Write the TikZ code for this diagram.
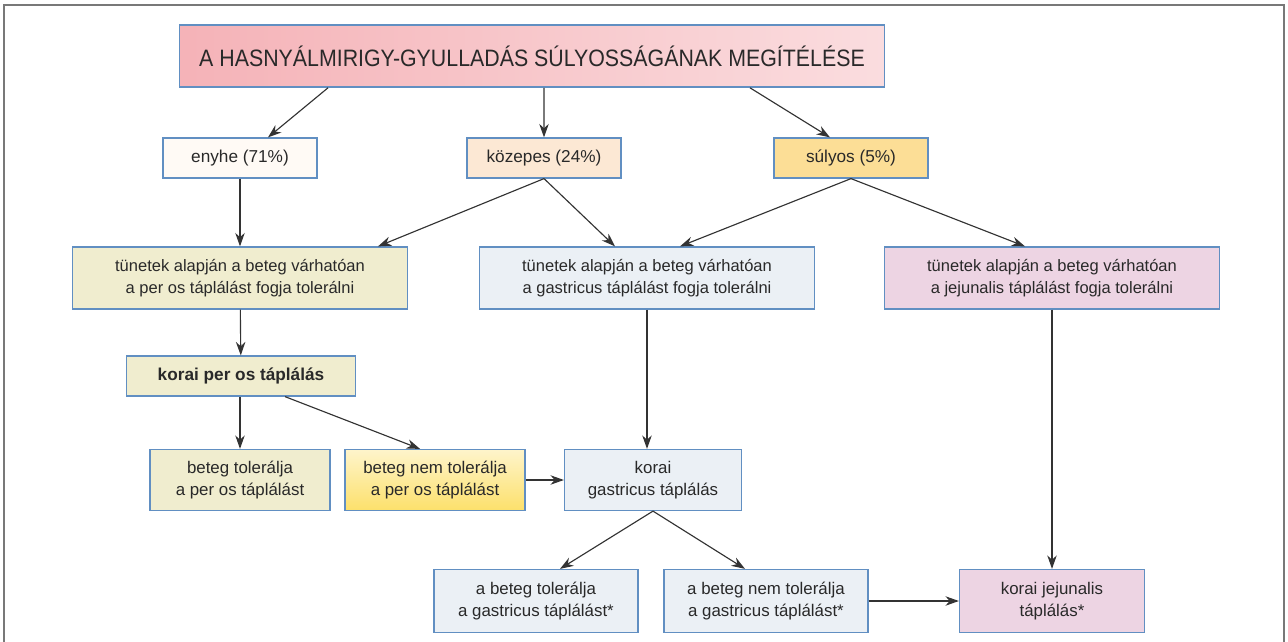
\documentclass[tikz,border=0pt]{standalone}
\usepackage{fontspec}
\setmainfont{Liberation Sans}
\newfontfamily\cimbetu[FakeStretch=0.9]{Liberation Sans}
\usepackage{tikz}
\usetikzlibrary{arrows.meta,calc,positioning}
\definecolor{keret}{rgb}{0.47,0.47,0.47}
\definecolor{dobozkek}{rgb}{0.38,0.56,0.76}
\definecolor{nyil}{rgb}{0.20,0.20,0.20}
\definecolor{szoveg}{rgb}{0.16,0.16,0.16}
\definecolor{cimrozsa}{rgb}{0.96,0.70,0.72}
\definecolor{halvany}{rgb}{1.00,0.98,0.96}
\definecolor{barack}{rgb}{0.99,0.91,0.83}
\definecolor{sarga}{rgb}{0.99,0.87,0.59}
\definecolor{bezs}{rgb}{0.94,0.93,0.81}
\definecolor{kekes}{rgb}{0.92,0.94,0.96}
\definecolor{lila}{rgb}{0.93,0.83,0.89}
\definecolor{erossarga}{rgb}{0.99,0.88,0.42}
\tikzset{
  cim/.style={
    draw=dobozkek,
    line width=0.9pt,
    left color=cimrozsa,
    right color=cimrozsa!45,
    text=szoveg,
    align=center,
    minimum width=14.1cm,
    minimum height=1.24cm,
    font=\cimbetu\fontsize{13.5}{15}\selectfont
  },
  fok/.style={
    draw=dobozkek,
    line width=0.7pt,
    text=szoveg,
    align=center,
    minimum width=3.08cm,
    minimum height=0.8cm,
    font=\fontsize{9.8}{12.5}\selectfont
  },
  tunet/.style={
    draw=dobozkek,
    line width=0.7pt,
    text=szoveg,
    align=center,
    minimum width=6.7cm,
    minimum height=1.24cm,
    font=\fontsize{9.4}{12.5}\selectfont
  },
  doboz/.style={
    draw=dobozkek,
    line width=0.7pt,
    text=szoveg,
    align=center,
    minimum width=3.6cm,
    minimum height=1.22cm,
    font=\fontsize{9.6}{12.5}\selectfont
  },
  arrow/.style={
    -{Stealth[length=2.7mm,width=1.9mm]},
    line width=0.65pt,
    nyil
  }
}
\begin{document}
\begin{tikzpicture}[x=0.02cm,y=-0.02cm]
\useasboundingbox (0,0) rectangle (1288,642);
\draw[keret,line width=0.8pt] (4,650) -- (4,5) -- (1284,5) -- (1284,650);
% szintek
\node[cim] (cim) at (532,56) {A HASNYÁLMIRIGY-GYULLADÁS SÚLYOSSÁGÁNAK MEGÍTÉLÉSE};
\node[fok,fill=halvany] (enyhe) at (240,158) {enyhe (71\%)};
\node[fok,fill=barack] (kozepes) at (544,158) {közepes (24\%)};
\node[fok,fill=sarga] (sulyos) at (851,158) {súlyos (5\%)};
\node[tunet,fill=bezs] (peros) at (240,278) {tünetek alapján a beteg várhatóan\\a per os táplálást fogja tolerálni};
\node[tunet,fill=kekes] (gastr) at (647,278) {tünetek alapján a beteg várhatóan\\a gastricus táplálást fogja tolerálni};
\node[tunet,fill=lila] (jejun) at (1052,278) {tünetek alapján a beteg várhatóan\\a jejunalis táplálást fogja tolerálni};
\node[fok,fill=bezs,minimum width=4.58cm,font=\fontsize{9.8}{12}\selectfont\bfseries] (kperos) at (241,376) {korai per os táplálás};
\node[doboz,fill=bezs] (toler) at (240,480) {beteg tolerálja\\a per os táplálást};
\node[doboz,top color=erossarga!35,bottom color=erossarga] (nemtoler) at (435,480) {beteg nem tolerálja\\a per os táplálást};
\node[doboz,fill=kekes,minimum width=3.54cm] (kgastr) at (653,480) {korai\\gastricus táplálás};
\node[doboz,fill=kekes,minimum width=4.08cm,minimum height=1.26cm] (gtoler) at (536,601) {a beteg tolerálja\\a gastricus táplálást*};
\node[doboz,fill=kekes,minimum width=4.08cm,minimum height=1.26cm] (gnemtoler) at (766,601) {a beteg nem tolerálja\\a gastricus táplálást*};
\node[doboz,fill=lila,minimum width=3.7cm,minimum height=1.26cm] (kjejun) at (1052,601) {korai jejunalis\\táplálás*};
% nyilak
\draw[arrow] ([xshift=-4.08cm]cim.south) -- ([xshift=0.56cm]enyhe.north);
\draw[arrow] ([xshift=0.24cm]cim.south) -- (kozepes.north);
\draw[arrow] ([xshift=4.36cm]cim.south) -- ([xshift=-0.42cm]sulyos.north);
\draw[arrow] (enyhe) -- (peros);
\draw[arrow] (kozepes.south) -- ([xshift=2.76cm]peros.north);
\draw[arrow] (kozepes.south) -- ([xshift=-0.64cm]gastr.north);
\draw[arrow] (sulyos.south) -- ([xshift=0.66cm]gastr.north);
\draw[arrow] (sulyos.south) -- ([xshift=-0.54cm]jejun.north);
\draw[arrow] (peros) -- (kperos);
\draw[arrow] (gastr.south) -- (gastr.south |- kgastr.north);
\draw[arrow] (jejun) -- (kjejun);
\draw[arrow] (kperos.south -| toler) -- (toler);
\draw[arrow] ([xshift=0.88cm]kperos.south) -- ([xshift=-0.3cm]nemtoler.north);
\draw[arrow] (nemtoler) -- (kgastr);
\draw[arrow] (kgastr.south) -- ([xshift=0.48cm]gtoler.north);
\draw[arrow] (kgastr.south) -- ([xshift=-0.42cm]gnemtoler.north);
\draw[arrow] (gnemtoler) -- (kjejun);
\end{tikzpicture}
\end{document}
